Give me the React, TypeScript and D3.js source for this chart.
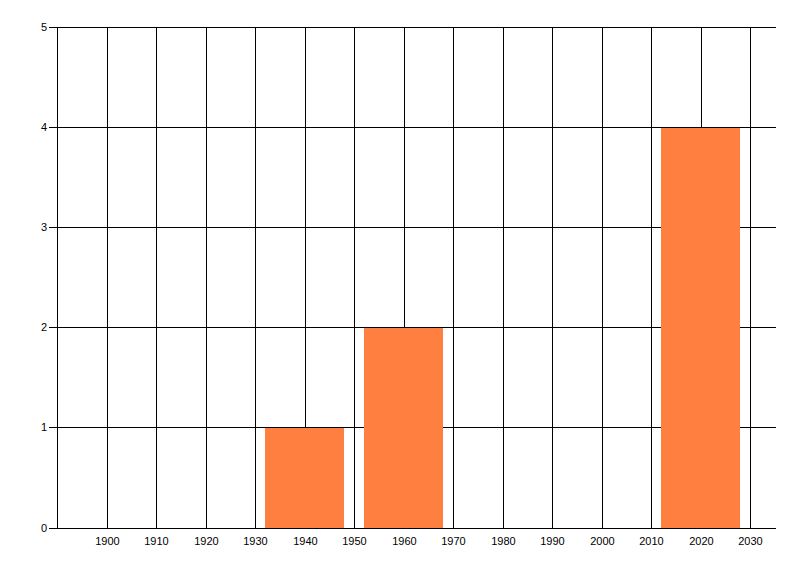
import React from "react";
import * as d3 from "d3";

const years = [1940, 1960, 2020];
const counts = [1, 2, 4];
const xTickValues = [1900, 1910, 1920, 1930, 1940, 1950, 1960, 1970, 1980, 1990, 2000, 2010, 2020, 2030];
const yTickValues = [0, 1, 2, 3, 4, 5];
const binHalfWidth = 8;

export default function App() {
  const width = 800;
  const height = 576;
  const x = d3.scaleLinear().domain([1890, 2035]).range([57.5, 775.5]);
  const y = d3.scaleLinear().domain([0, 5]).range([528, 27]);
  const px = (v: number) => Math.floor(x(v));
  const py = (v: number) => Math.floor(y(v));
  const font = "'Liberation Sans', Arial, sans-serif";
  return (
    <svg width={width} height={height} style={{ position: "absolute", left: 0, top: 0, background: "#fff" }}>
      {/* vertical gridlines */}
      {xTickValues.map((t) => (
        <line key={"vx" + t} x1={px(t) + 0.5} x2={px(t) + 0.5} y1={py(5)} y2={py(0)} stroke="#000" strokeWidth={1} />
      ))}
      {/* horizontal gridlines with tick marks */}
      {yTickValues.map((t) => (
        <line key={"hy" + t} x1={49} x2={776} y1={py(t) + 0.5} y2={py(t) + 0.5} stroke="#000" strokeWidth={1} />
      ))}
      {/* bars */}
      {years.map((yr, i) => (
        <rect
          key={"b" + yr}
          x={px(yr - binHalfWidth)}
          width={px(yr + binHalfWidth) - px(yr - binHalfWidth)}
          y={py(counts[i]) + 1}
          height={py(0) - py(counts[i]) - 1}
          fill="#ff7f40"
        />
      ))}
      {/* left axis */}
      <line x1={57.5} x2={57.5} y1={py(5)} y2={py(0) + 1} stroke="#000" strokeWidth={1} />
      {/* bottom axis line */}
      <line x1={57} x2={776} y1={py(0) + 0.5} y2={py(0) + 0.5} stroke="#000" strokeWidth={1} />
      {/* y labels */}
      {yTickValues.map((t) => (
        <text key={"yl" + t} x={47} y={py(t) + 0.5} dy="0.35em" textAnchor="end" fontFamily={font} fontSize={11} fill="#000">
          {t}
        </text>
      ))}
      {/* x labels */}
      {xTickValues.map((t) => (
        <text key={"xl" + t} x={px(t) + 0.5} y={545} textAnchor="middle" fontFamily={font} fontSize={11} fill="#000">
          {t}
        </text>
      ))}
    </svg>
  );
}
